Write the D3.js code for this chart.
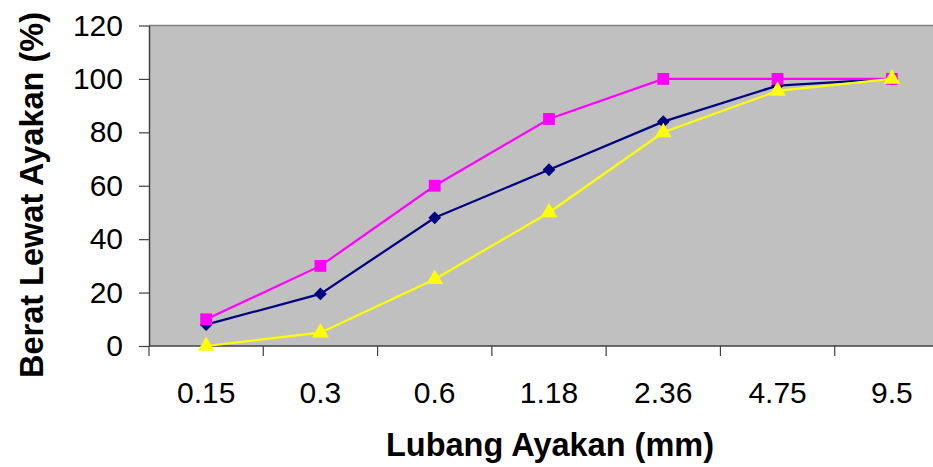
<!DOCTYPE html>
<html>
<head>
<meta charset="utf-8">
<script src="https://cdn.jsdelivr.net/npm/d3@7"></script>
<style>
  html, body { margin: 0; padding: 0; background: #ffffff; }
  svg { display: block; }
  text { font-family: "Liberation Sans", Arial, sans-serif; fill: #000; }
</style>
</head>
<body>
<svg id="chart" width="933" height="467"></svg>
<script>
// Sieve sizes (mm) and percentage passing for each gradation curve
const sieveSizes = ["0.15", "0.3", "0.6", "1.18", "2.36", "4.75", "9.5"];
const passingMain = [8, 19.5, 48, 66, 84, 97.5, 100];      // navy, diamonds
const passingUpper = [10, 30, 60, 85, 100, 100, 100];      // magenta, squares
const passingLower = [0, 5, 25, 50, 80, 95.5, 100];        // yellow, triangles
const yTicks = [0, 20, 40, 60, 80, 100, 120];

const svg = d3.select("#chart");
const plot = { left: 149, top: 25.5, right: 949, bottom: 346 };

const x = d3.scaleBand().domain(sieveSizes).range([plot.left, plot.right]).padding(0);
const y = d3.scaleLinear().domain([0, 120]).range([plot.bottom, plot.top]);

// plot background
svg.append("rect")
  .attr("x", plot.left).attr("y", plot.top)
  .attr("width", plot.right - plot.left).attr("height", plot.bottom - plot.top)
  .attr("fill", "#c0c0c0");

// top frame line
svg.append("line")
  .attr("x1", plot.left).attr("x2", plot.right)
  .attr("y1", plot.top).attr("y2", plot.top)
  .attr("stroke", "#808080").attr("stroke-width", 1.5);

// y axis
const yAxis = svg.append("g")
  .attr("transform", `translate(${plot.left},0)`)
  .call(d3.axisLeft(y).tickValues(yTicks).tickSize(10).tickPadding(16).tickSizeOuter(0));
yAxis.select(".domain").attr("stroke", "#404040").attr("stroke-width", 1.5);
yAxis.selectAll(".tick line").attr("stroke", "#404040").attr("stroke-width", 1.2);
yAxis.selectAll(".tick text")
  .attr("font-size", 30).attr("font-family", "Liberation Sans, Arial, sans-serif").attr("fill", "#000");

// x axis: labels centred in each category, ticks on category boundaries
const xAxis = svg.append("g")
  .attr("transform", `translate(0,${plot.bottom})`)
  .call(d3.axisBottom(x).tickSize(0).tickPadding(36).tickSizeOuter(0));
xAxis.select(".domain").remove();
xAxis.selectAll(".tick text")
  .attr("font-size", 30).attr("font-family", "Liberation Sans, Arial, sans-serif").attr("fill", "#000");
svg.append("line")
  .attr("x1", plot.left).attr("x2", plot.right)
  .attr("y1", plot.bottom).attr("y2", plot.bottom)
  .attr("stroke", "#404040").attr("stroke-width", 1.5);
svg.append("g").selectAll("line")
  .data(sieveSizes)
  .join("line")
  .attr("x1", d => x(d)).attr("x2", d => x(d))
  .attr("y1", plot.bottom).attr("y2", plot.bottom + 10)
  .attr("stroke", "#404040").attr("stroke-width", 1.2);

// axis titles
svg.append("text")
  .attr("x", 550).attr("y", 456)
  .attr("text-anchor", "middle")
  .attr("font-size", 32.5).attr("font-weight", "bold")
  .text("Lubang Ayakan (mm)");
svg.append("text")
  .attr("transform", "translate(43,195) rotate(-90)")
  .attr("text-anchor", "middle")
  .attr("font-size", 32.5).attr("font-weight", "bold")
  .text("Berat Lewat Ayakan (%)");

const cx = d => x(d) + x.bandwidth() / 2;
const line = d3.line().x(d => cx(d.s)).y(d => y(d.v));

// diamond markers are squares turned 45 degrees
const series = [
  { values: passingMain, color: "#000080", symbol: d3.symbolSquare, size: 82, rotate: 45 },
  { values: passingUpper, color: "#ff00ff", symbol: d3.symbolSquare, size: 140, rotate: 0 },
  { values: passingLower, color: "#ffff00", symbol: d3.symbolTriangle, size: 120, rotate: 0 }
];

series.forEach(s => {
  const pts = sieveSizes.map((c, i) => ({ s: c, v: s.values[i] }));
  const g = svg.append("g");
  g.append("path")
    .datum(pts)
    .attr("d", line)
    .attr("fill", "none")
    .attr("stroke", s.color)
    .attr("stroke-width", 2.2);
  g.selectAll("path.marker")
    .data(pts)
    .join("path")
    .attr("class", "marker")
    .attr("transform", d => `translate(${cx(d.s)},${y(d.v)}) rotate(${s.rotate})`)
    .attr("d", d3.symbol().type(s.symbol).size(s.size))
    .attr("fill", s.color);
});
</script>
</body>
</html>
